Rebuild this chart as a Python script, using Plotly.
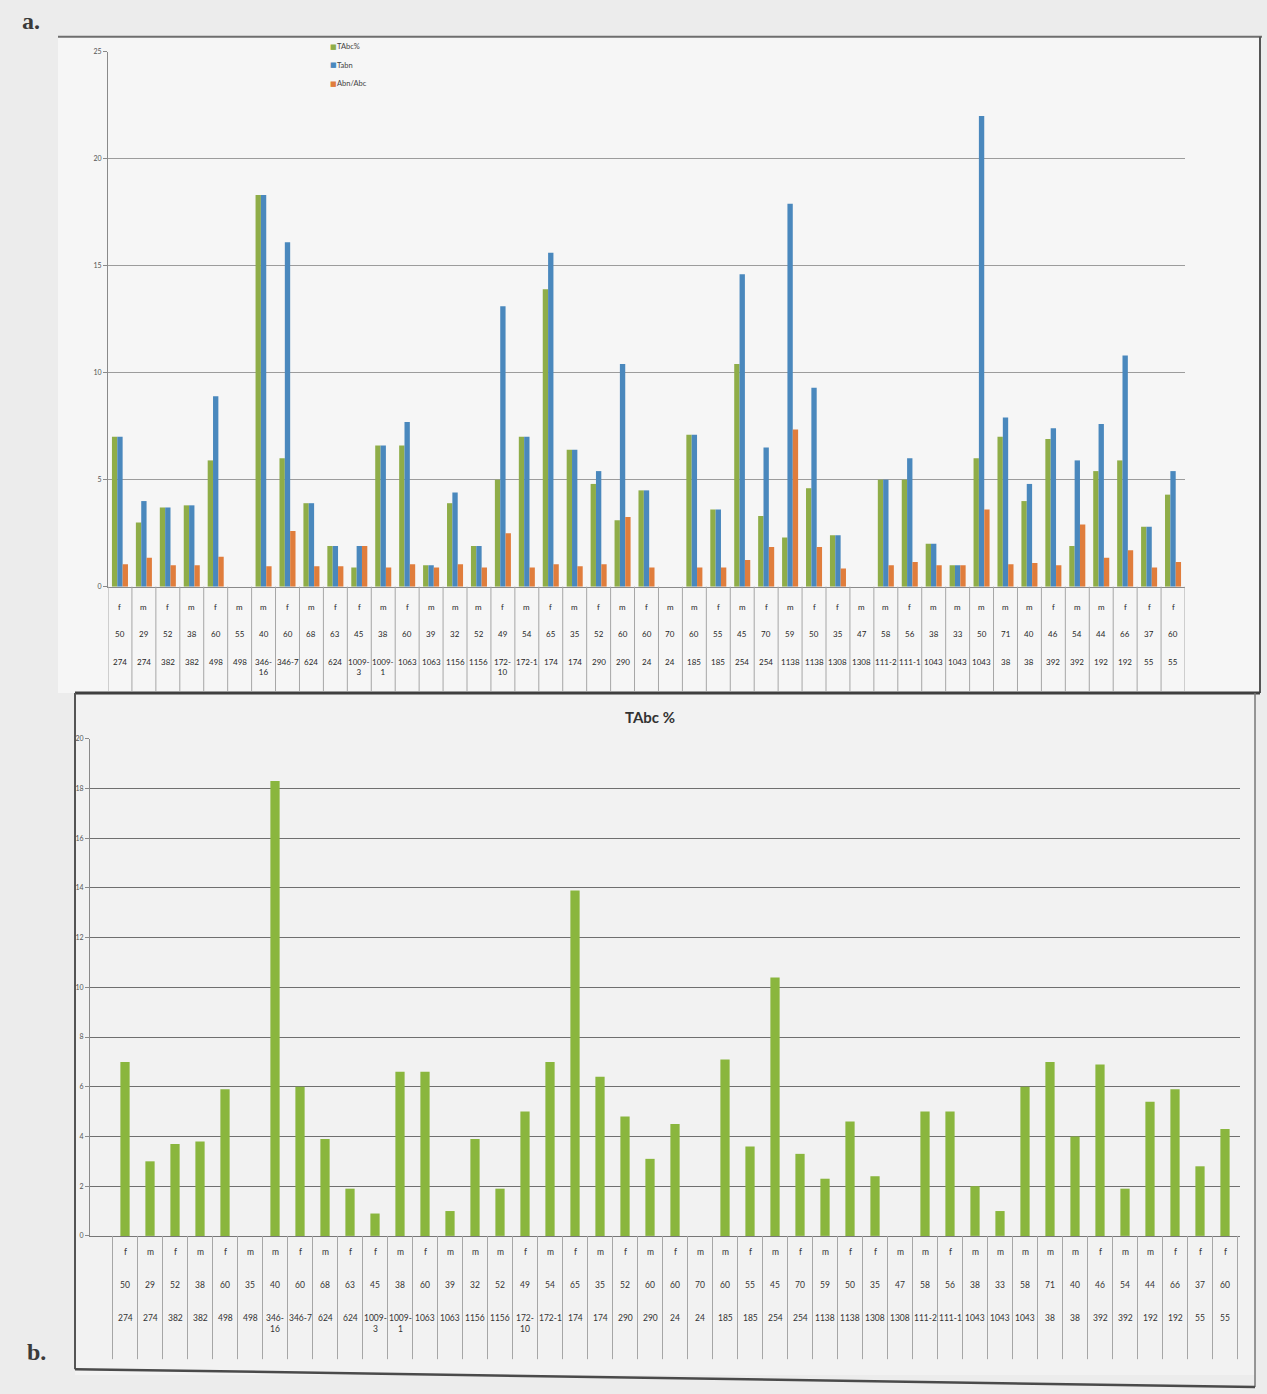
import plotly.graph_objects as go

# ---- data -------------------------------------------------------------
sex = ["f", "m", "f", "m", "f", "m", "m", "f", "m", "f", "f", "m", "f", "m", "m",
       "m", "f", "m", "f", "m", "f", "m", "f", "m", "m", "f", "m", "f", "m", "f",
       "f", "m", "m", "f", "m", "m", "m", "m", "m", "f", "m", "m", "f", "f", "f"]
age_a = [50, 29, 52, 38, 60, 55, 40, 60, 68, 63, 45, 38, 60, 39, 32,
         52, 49, 54, 65, 35, 52, 60, 60, 70, 60, 55, 45, 70, 59, 50,
         35, 47, 58, 56, 38, 33, 50, 71, 40, 46, 54, 44, 66, 37, 60]
age_b = [50, 29, 52, 38, 60, 35, 40, 60, 68, 63, 45, 38, 60, 39, 32,
         52, 49, 54, 65, 35, 52, 60, 60, 70, 60, 55, 45, 70, 59, 50,
         35, 47, 58, 56, 38, 33, 58, 71, 40, 46, 54, 44, 66, 37, 60]
family = ["274", "274", "382", "382", "498", "498", "346-16", "346-7", "624", "624",
          "1009-3", "1009-1", "1063", "1063", "1156", "1156", "172-10", "172-1", "174", "174",
          "290", "290", "24", "24", "185", "185", "254", "254", "1138", "1138",
          "1308", "1308", "111-2", "111-1", "1043", "1043", "1043", "38", "38", "392",
          "392", "192", "192", "55", "55"]

tabc_pct = [7.0, 3.0, 3.7, 3.8, 5.9, None, 18.3, 6.0, 3.9, 1.9, 0.9, 6.6, 6.6, 1.0, 3.9,
            1.9, 5.0, 7.0, 13.9, 6.4, 4.8, 3.1, 4.5, None, 7.1, 3.6, 10.4, 3.3, 2.3, 4.6,
            2.4, None, 5.0, 5.0, 2.0, 1.0, 6.0, 7.0, 4.0, 6.9, 1.9, 5.4, 5.9, 2.8, 4.3]
tabn = [7.0, 4.0, 3.7, 3.8, 8.9, None, 18.3, 16.1, 3.9, 1.9, 1.9, 6.6, 7.7, 1.0, 4.4,
        1.9, 13.1, 7.0, 15.6, 6.4, 5.4, 10.4, 4.5, None, 7.1, 3.6, 14.6, 6.5, 17.9, 9.3,
        2.4, None, 5.0, 6.0, 2.0, 1.0, 22.0, 7.9, 4.8, 7.4, 5.9, 7.6, 10.8, 2.8, 5.4]
abn_abc = [1.05, 1.35, 1.0, 1.0, 1.4, None, 0.95, 2.6, 0.95, 0.95, 1.9, 0.9, 1.05, 0.9, 1.05,
           0.9, 2.5, 0.9, 1.05, 0.95, 1.05, 3.25, 0.9, None, 0.9, 0.9, 1.25, 1.85, 7.35, 1.85,
           0.85, None, 1.0, 1.15, 1.0, 1.0, 3.6, 1.05, 1.1, 1.0, 2.9, 1.35, 1.7, 0.9, 1.15]

series_names = ["TAbc%", "Tabn", "Abn/Abc"]
GREEN, BLUE, ORANGE = "#8fad48", "#4a88bd", "#e07d3c"
GREEN_B = "#8ab63e"
W, H = 1267, 1394
SANS = "Lato, Liberation Sans, sans-serif"


def px(x):
    return x / W


def py(y):
    return 1 - y / H


def wrap(code):
    # long family codes break after the hyphen inside the narrow cells
    return code.replace("-", "-<br>", 1) if len(code) > 5 else code


keys = [f"{s} {a} {c}" for s, a, c in zip(sex, age_a, family)]
n = len(keys)
bounds = [i - 0.5 for i in range(n + 1)]

fig = go.Figure()

# ---- panel a: three grouped series --------------------------------------
for name, vals, col in zip(series_names, [tabc_pct, tabn, abn_abc], [GREEN, BLUE, ORANGE]):
    fig.add_trace(go.Bar(name=name, x=keys, y=vals, marker_color=col,
                         marker_line_width=0, xaxis="x", yaxis="y", showlegend=False))

# ---- panel b: TAbc % alone ---------------------------------------------
fig.add_trace(go.Bar(name="TAbc %", x=keys, y=tabc_pct, marker_color=GREEN_B,
                     marker_line_width=0, width=0.37, showlegend=False,
                     xaxis="x2", yaxis="y2"))

tick_font = dict(family=SANS, size=7, color="#555")

fig.update_layout(
    width=W, height=H, autosize=False,
    margin=dict(l=0, r=0, t=0, b=0),
    paper_bgcolor="#ececec", plot_bgcolor="rgba(0,0,0,0)",
    barmode="group", bargap=0.33, bargroupgap=0,
    showlegend=False,
    xaxis=dict(domain=[px(108), px(1185)], anchor="y", type="category",
               categoryorder="array", categoryarray=keys, range=[-0.5, n - 0.5],
               showticklabels=False, ticks="", showgrid=False, zeroline=False,
               showline=True, linecolor="#8a8a8a", linewidth=1),
    yaxis=dict(domain=[py(585), py(47)], anchor="x", range=[0, 25], dtick=5,
               showgrid=True, gridcolor="#9c9c9c", gridwidth=1, zeroline=False,
               showline=True, linecolor="#8a8a8a", ticks="outside", ticklen=4,
               tickcolor="#8a8a8a", tickfont=tick_font),
    xaxis2=dict(domain=[px(90), px(1240)], anchor="y2", type="category",
                categoryorder="array", categoryarray=keys, range=[-1.4, n - 0.4],
                showticklabels=False, ticks="", showgrid=False, zeroline=False,
                showline=True, linecolor="#777", linewidth=1),
    yaxis2=dict(domain=[py(1238), py(738)], anchor="x2", range=[0, 20], dtick=2,
                showgrid=True, gridcolor="#6f6f6f", gridwidth=1, zeroline=False,
                showline=True, linecolor="#8a8a8a", ticks="outside", ticklen=4,
                tickcolor="#8a8a8a", tickfont=tick_font),
)

# ---- frames, panel backgrounds, category table rules ------------------------
shapes = [
    dict(type="rect", xref="paper", yref="paper", x0=px(58), x1=px(1260), y0=py(692), y1=py(32),
         fillcolor="#f6f6f6", line_width=0, layer="below"),
    dict(type="rect", xref="paper", yref="paper", x0=px(75), x1=px(1255), y0=py(1378), y1=py(694),
         fillcolor="#f2f2f2", line_width=0, layer="below"),
    dict(type="line", xref="paper", yref="paper", x0=px(58), x1=px(1262), y0=py(32), y1=py(32),
         line=dict(color="#6e6e6e", width=2)),
    dict(type="line", xref="paper", yref="paper", x0=px(1260), x1=px(1260), y0=py(32), y1=py(692),
         line=dict(color="#555", width=2)),
    dict(type="line", xref="paper", yref="paper", x0=px(75), x1=px(1260), y0=py(692), y1=py(692),
         line=dict(color="#3f3f3f", width=3)),
    dict(type="line", xref="paper", yref="paper", x0=px(75), x1=px(75), y0=py(692), y1=py(1372),
         line=dict(color="#555", width=2)),
    dict(type="line", xref="paper", yref="paper", x0=px(1255), x1=px(1255), y0=py(692), y1=py(1390),
         line=dict(color="#777", width=1.5)),
    dict(type="line", xref="paper", yref="paper", x0=px(75), x1=px(1255), y0=py(1372), y1=py(1390),
         line=dict(color="#4a4a4a", width=2.5)),
]
for b in bounds:
    shapes.append(dict(type="line", xref="x", yref="paper", x0=b, x1=b,
                       y0=py(585), y1=py(690), line=dict(color="#a6a6a6", width=1)))
    shapes.append(dict(type="line", xref="x2", yref="paper", x0=b, x1=b,
                       y0=py(1238), y1=py(1362), line=dict(color="#a6a6a6", width=1)))
fig.update_layout(shapes=shapes)

# ---- category table labels ------------------------------------------
lab_font_a = dict(family=SANS, size=8, color="#262626")
lab_font_b = dict(family=SANS, size=8.5, color="#333")
ann = []
for k, s, a, c in zip(keys, sex, age_a, family):
    ann.append(dict(x=k, xref="x", y=py(605), yref="paper", text=s, showarrow=False,
                    font=lab_font_a, yanchor="middle"))
    ann.append(dict(x=k, xref="x", y=py(633), yref="paper", text=str(a), showarrow=False,
                    font=lab_font_a, yanchor="middle"))
    ann.append(dict(x=k, xref="x", y=py(654), yref="paper", text=wrap(c), showarrow=False,
                    font=lab_font_a, yanchor="top"))
for k, s, a, c in zip(keys, sex, age_b, family):
    ann.append(dict(x=k, xref="x2", y=py(1254), yref="paper", text=s, showarrow=False,
                    font=lab_font_b, yanchor="middle"))
    ann.append(dict(x=k, xref="x2", y=py(1287), yref="paper", text=str(a), showarrow=False,
                    font=lab_font_b, yanchor="middle"))
    ann.append(dict(x=k, xref="x2", y=py(1314), yref="paper", text=wrap(c), showarrow=False,
                    font=lab_font_b, yanchor="top"))

# legend of panel a: small colour keys beside the series names
for i, (name, col) in enumerate(zip(series_names, [GREEN, BLUE, ORANGE])):
    yy = py(42 + 18.5 * i)
    ann.append(dict(x=px(328), y=yy, xref="paper", yref="paper", text="■",
                    showarrow=False, xanchor="left", yanchor="middle",
                    font=dict(family="DejaVu Sans", size=7, color=col)))
    ann.append(dict(x=px(335), y=yy, xref="paper", yref="paper", text=name,
                    showarrow=False, xanchor="left", yanchor="middle",
                    font=dict(family=SANS, size=7.5, color="#444")))

# titles and panel letters
ann.append(dict(x=px(650), y=py(716), xref="paper", yref="paper", text="<b>TAbc %</b>",
                showarrow=False, xanchor="center", yanchor="middle",
                font=dict(family=SANS, size=15, color="#333")))
ann.append(dict(x=px(31), y=py(16), xref="paper", yref="paper", text="<b>a.</b>",
                showarrow=False, xanchor="center", yanchor="middle",
                font=dict(family="Liberation Serif, DejaVu Serif, serif", size=24, color="#3a3a3a")))
ann.append(dict(x=px(36), y=py(1355), xref="paper", yref="paper", text="<b>b.</b>",
                showarrow=False, xanchor="center", yanchor="middle",
                font=dict(family="Liberation Serif, DejaVu Serif, serif", size=24, color="#3a3a3a")))
fig.update_layout(annotations=ann)

fig.write_html("out.html")
